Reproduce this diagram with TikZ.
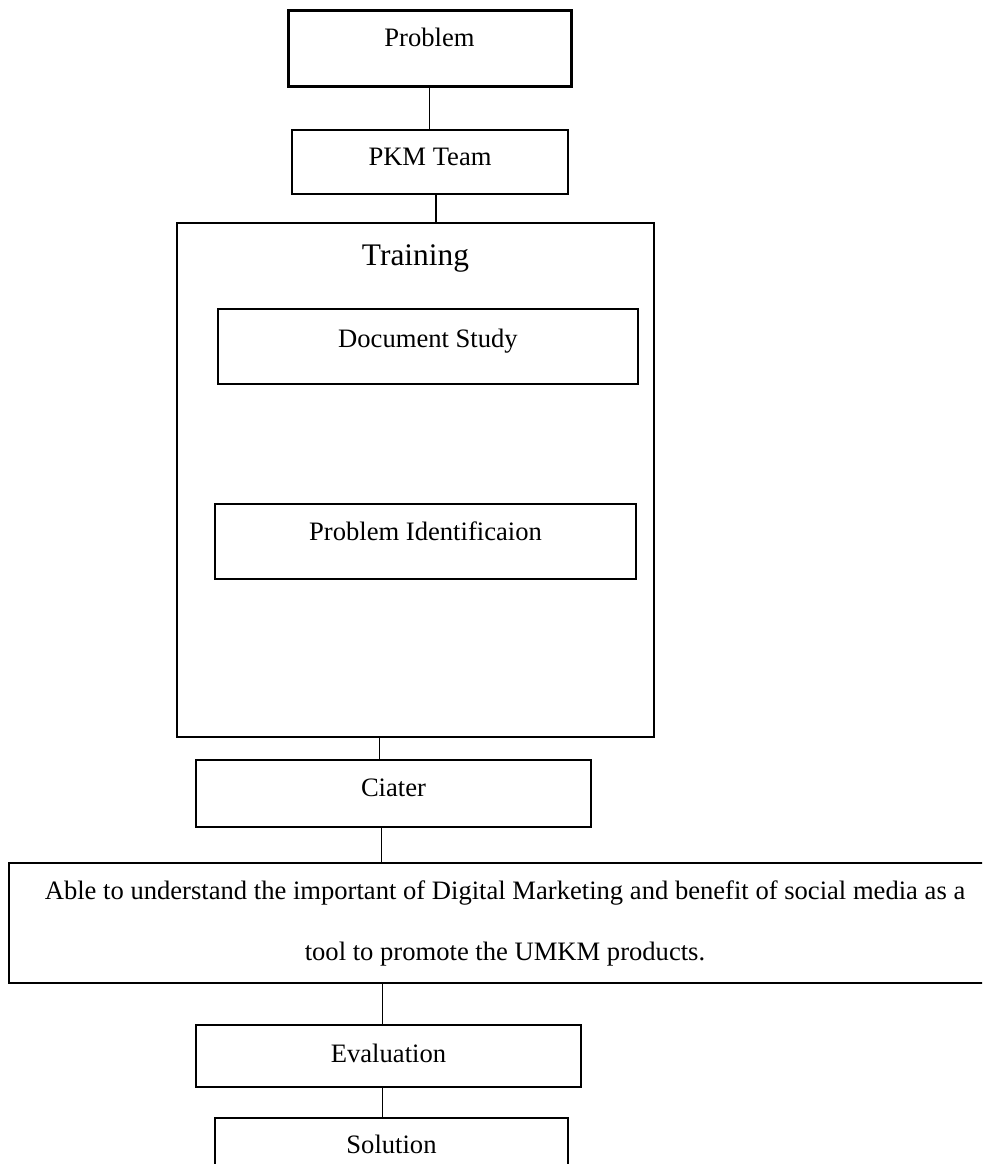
\documentclass[tikz,border=0pt]{standalone}
\usepackage{fontspec}
\setmainfont{Liberation Serif}
\usepackage{tikz}
\usetikzlibrary{positioning}
\tikzset{box/.style={draw, line width=1pt, inner sep=0pt, outer sep=0pt, font=\fontsize{13.3}{16}\selectfont, text height=8.8pt, text depth=0pt}}
\tikzset{lift/.style={text depth=#1}}
\tikzset{link/.style={draw, line width=0.8pt}}

\begin{document}
\begin{tikzpicture}[x=0.5pt,y=-0.5pt]
        \useasboundingbox (0,0) rectangle (982,1164);
        \clip (0,0) rectangle (982,1164);
        \node [box, line width=1.5pt, lift=10pt, minimum width=141.5pt, minimum height=38pt] (problem) at (429.5,48) {Problem};
        \node [box, lift=5pt, minimum width=138pt, minimum height=32pt] (pkm) at (430,162) {PKM Team};
        \node [draw, line width=1pt, inner sep=0pt, minimum width=238.5pt, minimum height=257pt] (train) at (415.5,480) {};
        \node [font=\fontsize{15.7}{18}\selectfont, inner sep=0pt, below=11pt of train.north] (trainlbl) {Training};
        \node [box, lift=8pt, minimum width=210pt, minimum height=37.5pt] (docstudy) at (428,346.5) {Document Study};
        \node [box, lift=9.5pt, minimum width=210.5pt, minimum height=37.5pt] (probid) at (425.5,541.5) {Problem Identificaion};
        \node [box, lift=6pt, minimum width=197.5pt, minimum height=33.5pt] (ciater) at (393.5,793.5) {Ciater};
        \node [draw, line width=1.2pt, inner sep=0pt, minimum width=496pt, minimum height=60pt, align=center, font=\fontsize{13.3}{30.5}\selectfont] (outcome) at (505,923) {Able to understand the important of Digital Marketing and benefit of social media as a\\tool to promote the UMKM products.};
        \node [box, lift=2.5pt, minimum width=192.5pt, minimum height=31pt] (eval) at (388.5,1056) {Evaluation};
        \node [box, lift=4pt, minimum width=176.5pt, minimum height=31pt] (solution) at (391.5,1149) {Solution};
        % connectors
        \draw [link] (problem.south) -- (problem.south |- pkm.north);
        \draw [link] ([xshift=3pt]pkm.south) -- ([xshift=3pt]pkm.south |- train.north);
        \draw [link] ([xshift=-7pt]ciater.north) -- ([xshift=-7pt]ciater.north |- train.south);
        \draw [link] ([xshift=-6pt]ciater.south) -- ([xshift=-6pt]ciater.south |- outcome.north);
        \draw [link] ([xshift=-3pt]eval.north) -- ([xshift=-3pt]eval.north |- outcome.south);
        \draw [link] ([xshift=-3pt]eval.south) -- ([xshift=-3pt]eval.south |- solution.north);
    \end{tikzpicture}
\end{document}
